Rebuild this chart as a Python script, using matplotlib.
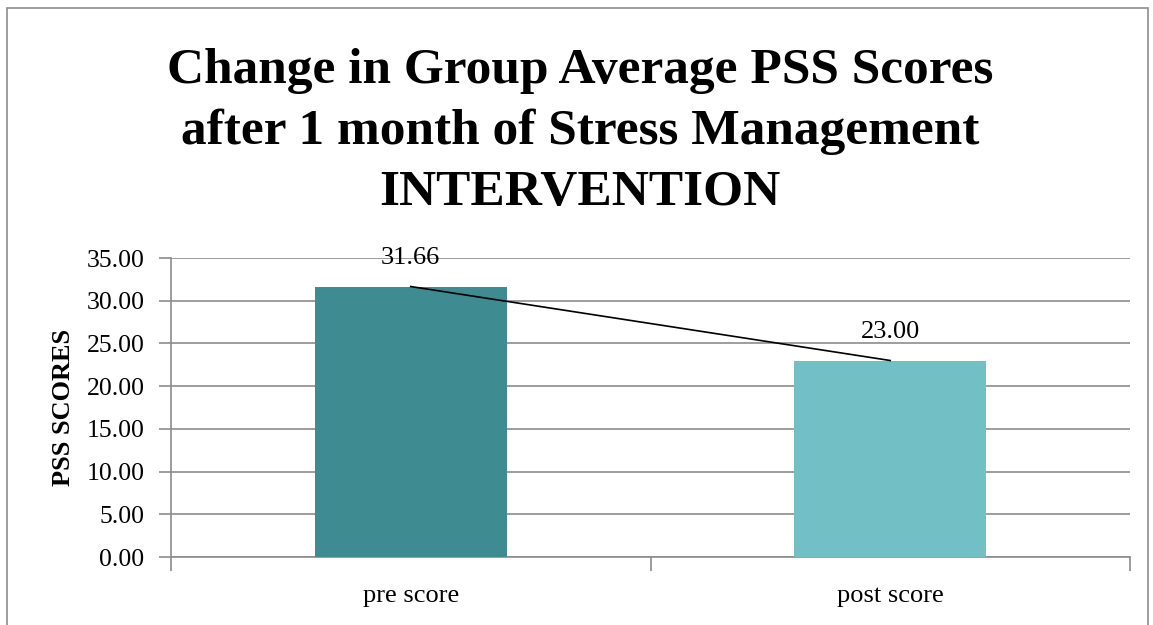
import matplotlib.pyplot as plt
from matplotlib.patches import Rectangle

categories = ["pre score", "post score"]
scores = [31.66, 23.00]
bar_colors = ["#3e8b91", "#72bfc5"]
yticks = [0, 5, 10, 15, 20, 25, 30, 35]

plt.rcParams["font.family"] = ["Liberation Serif", "DejaVu Serif"]

fig = plt.figure(figsize=(11.53, 6.25), dpi=100)
ax = fig.add_axes([171 / 1153, 1 - 557 / 625, 959 / 1153, 299 / 625])

# outer chart border
fig.add_artist(Rectangle((7 / 1153, -0.05), 1141 / 1153, 1 - 8 / 625 + 0.05,
                         transform=fig.transFigure, fill=False,
                         edgecolor="#8c8c8c", linewidth=1.2))

x = list(range(len(categories)))
ax.bar(x, scores, width=0.4, color=bar_colors, zorder=3)
ax.plot(x, scores, color="black", linewidth=1.2, zorder=4)
for xi, v in zip(x, scores):
    ax.text(xi, v + 2.0, f"{v:.2f}", ha="center", va="bottom", fontsize=19, zorder=5)

ax.set_xlim(-0.5, 1.5)
ax.set_ylim(0, 35)
ax.set_yticks(yticks)
ax.set_yticklabels([f"{t:.2f}" for t in yticks], fontsize=18.5)
ax.set_xticks(x)
ax.set_xticklabels(categories, fontsize=19)
ax.set_xticks([-0.5, 0.5, 1.5], minor=True)
ax.tick_params(axis="x", which="major", length=0, pad=20)
ax.tick_params(axis="x", which="minor", length=10, color="#8c8c8c", width=1.2)
ax.tick_params(axis="y", length=9, color="#8c8c8c", width=1.2, pad=10)
ax.grid(axis="y", color="#8c8c8c", linewidth=1.2, zorder=0)
for s in ["top", "right"]:
    ax.spines[s].set_visible(False)
ax.spines["left"].set_color("#8c8c8c")
ax.spines["bottom"].set_color("#8c8c8c")
ax.spines["left"].set_linewidth(1.2)
ax.spines["bottom"].set_linewidth(1.2)

ax.set_ylabel("PSS SCORES", fontsize=19, fontweight="bold", labelpad=8)

fig.text(0.503, 1 - 132 / 625,
         "Change in Group Average PSS Scores\nafter 1 month of Stress Management\nINTERVENTION",
         ha="center", va="center", fontsize=37, fontweight="bold", linespacing=1.42)

fig.savefig("out.png", dpi=100)
